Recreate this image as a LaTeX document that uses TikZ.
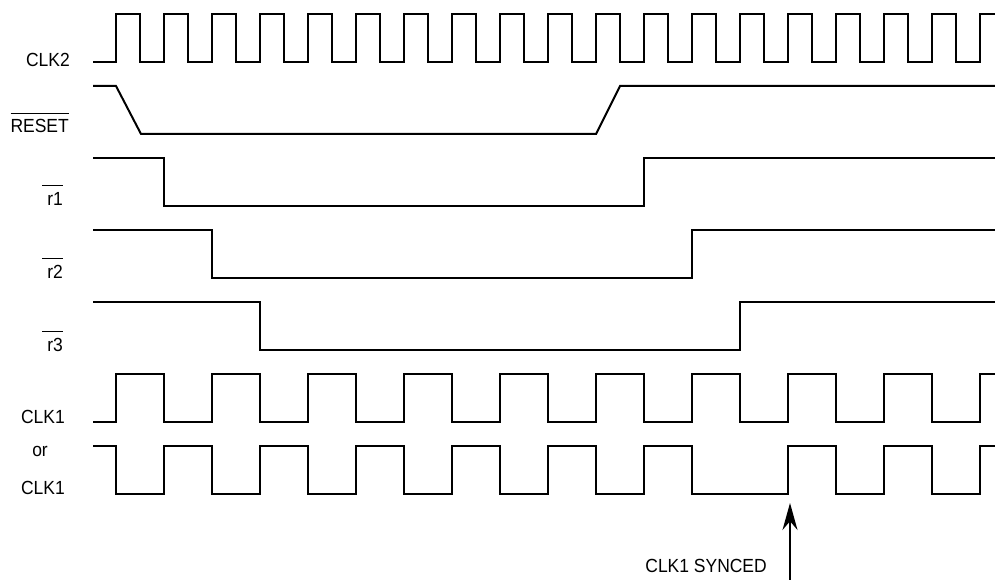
\documentclass[tikz,border=0pt]{standalone}
\usepackage{fontspec}
\setmainfont{Liberation Sans}[FakeStretch=0.92]
\usetikzlibrary{arrows.meta}
\newcommand\notsig[1]{\setbox0\hbox{#1}\rlap{\rule[19pt]{\wd0}{1.3pt}}\box0}
\tikzset{
  wave/.style={line width=2pt,line join=miter},
  sig/.style={anchor=base east,inner sep=0pt,font=\fontsize{19}{22}\selectfont},
}
\begin{document}
\begin{tikzpicture}[x=1pt,y=-1pt]
  \useasboundingbox (0,0) rectangle (995,580);
  \node[sig] (clk2) at (70,67) {CLK2};
  \node[sig] (reset) at (69,133) {\notsig{RESET}};
  \node[sig] (r1) at (63,205) {\notsig{\hspace{5pt}r1}};
  \node[sig] (r2) at (63,278) {\notsig{\hspace{5pt}r2}};
  \node[sig] (r3) at (63,351) {\notsig{\hspace{5pt}r3}};
  \node[sig] (clk1) at (65,423) {CLK1};
  \node[sig] (or) at (48,456) {or};
  \node[sig] (clk1n) at (65,494) {CLK1};
  \node[sig] (synced) at (767,572) {CLK1 SYNCED};
  \begin{scope}
    \clip (0,0) rectangle (995,580);
    \draw[wave] (93,62) foreach \k in {0,...,18} {-- ({115.5+48*\k},62) |- ({139.5+48*\k},14) |- ({163.5+48*\k},62)};
    \draw[wave] (93,86) -- (116,86) -- (141,134) -- (596,134) -- (620,86) -- (995,86);
    \draw[wave] (93,158) -| (164,206) -| (644,158) -- (995,158);
    \draw[wave] (93,230) -| (212,278) -| (692,230) -- (995,230);
    \draw[wave] (93,302) -| (260,350) -| (740,302) -- (995,302);
    \draw[wave] (93,422) foreach \k in {0,...,9} {-- ({116+96*\k},422) |- ({164+96*\k},374) |- ({212+96*\k},422)};
    \draw[wave] (93,446) foreach \k in {0,...,5} {-- ({116+96*\k},446) |- ({164+96*\k},494) |- ({212+96*\k},446)}
      |- (788,494) foreach \k in {7,8,9} {-- ({116+96*\k},494) |- ({164+96*\k},446) |- ({212+96*\k},494)};
  \end{scope}
  \coordinate (edge) at (790,503);
  \coordinate (foot) at (790,580);
  \draw[line width=1.6pt,-{Stealth[length=27pt,width=15pt]}] (foot) -- (edge);
\end{tikzpicture}
\end{document}
